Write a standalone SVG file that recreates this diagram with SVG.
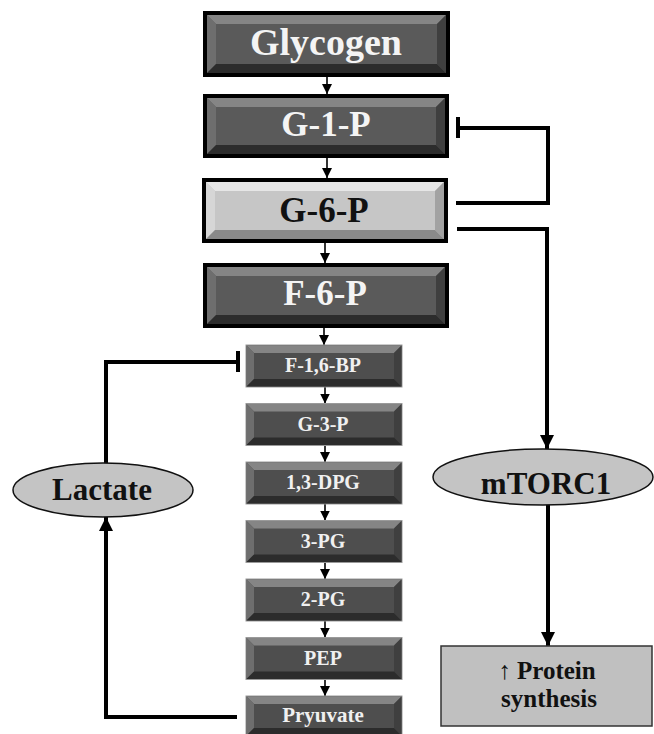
<svg xmlns="http://www.w3.org/2000/svg" width="654" height="734" viewBox="0 0 654 734" font-family="'Liberation Serif', 'DejaVu Serif', serif">
<style>
text{font-family:'Liberation Serif','DejaVu Serif',serif;font-weight:bold;text-anchor:middle}
.big{font-size:35px;fill:#f4f4f4}
.bigd{font-size:35px;fill:#111}
.sm{font-size:20px;fill:#f0f0f0}
.ell{font-size:31px;fill:#111}
.outer{fill:#000}
.base{fill:#5a5a5a}
.top{fill:#858585}
.lft{fill:#6e6e6e}
.rgt{fill:#3f3f3f}
.bot{fill:#2c2c2c}
.lbase{fill:#c6c6c6}
.ltop{fill:#e6e6e6}
.llft{fill:#d6d6d6}
.lrgt{fill:#a2a2a2}
.lbot{fill:#8a8a8a}
.sframe{fill:#4e4e4e;stroke:#9a9a9a;stroke-width:1}
.oval{fill:#c4c4c4;stroke:#111;stroke-width:1.5}
.thin{stroke:#000;stroke-width:1.6;fill:none}
.thick{stroke:#000;stroke-width:4;fill:none}
</style>
<defs>
<marker id="ah" viewBox="0 0 10 10" refX="10" refY="5" markerWidth="10" markerHeight="10" markerUnits="userSpaceOnUse" orient="auto">
<path d="M0,0 L10,5 L0,10 z" fill="#000"/>
</marker>
<marker id="ahb" viewBox="0 0 10 10" refX="10" refY="5" markerWidth="14" markerHeight="14" markerUnits="userSpaceOnUse" orient="auto">
<path d="M0,0 L10,5 L0,10 z" fill="#000"/>
</marker>
</defs>

<g id="connectors">
<line class="thin" x1="327" y1="77" x2="327" y2="94" marker-end="url(#ah)"/>
<line class="thin" x1="327" y1="158" x2="327" y2="178" marker-end="url(#ah)"/>
<line class="thin" x1="325" y1="243" x2="325" y2="263" marker-end="url(#ah)"/>
<line class="thin" x1="324" y1="328" x2="324" y2="345" marker-end="url(#ah)"/>
<line class="thin" x1="325" y1="387" x2="325" y2="403.5" marker-end="url(#ah)"/>
<line class="thin" x1="325" y1="445.5" x2="325" y2="462" marker-end="url(#ah)"/>
<line class="thin" x1="325" y1="504" x2="325" y2="520.5" marker-end="url(#ah)"/>
<line class="thin" x1="325" y1="562.5" x2="325" y2="579" marker-end="url(#ah)"/>
<line class="thin" x1="325" y1="621" x2="325" y2="637.5" marker-end="url(#ah)"/>
<line class="thin" x1="325" y1="679.5" x2="325" y2="696" marker-end="url(#ah)"/>
<path class="thick" d="M456,203 H548 V128 H458"/>
<line stroke="#000" stroke-width="4" x1="458" y1="117" x2="458" y2="138"/>
<path class="thick" d="M457,229 H547 V449" marker-end="url(#ahb)"/>
<line class="thick" x1="548" y1="504" x2="548" y2="646" marker-end="url(#ahb)"/>
<path class="thick" d="M106,463 V362 H238"/>
<line stroke="#000" stroke-width="4" x1="238" y1="351" x2="238" y2="372"/>
<path class="thick" d="M237,717 H106 V517" marker-end="url(#ahb)"/>
</g>

<g id="glycogen">
<rect class="outer" x="203" y="11" width="247" height="66"/>
<rect class="base" x="207" y="15" width="239" height="58"/>
<polygon class="top" points="207,15 446,15 437,24 216,24"/>
<polygon class="lft" points="207,15 216,24 216,64 207,73"/>
<polygon class="rgt" points="446,15 446,73 437,64 437,24"/>
<polygon class="bot" points="207,73 216,64 437,64 446,73"/>
<rect class="base" x="216" y="24" width="221" height="40"/>
<text class="big" x="326" y="55" style="font-size:38px">Glycogen</text>
</g>

<g id="g1p">
<rect class="outer" x="203" y="94" width="246" height="64"/>
<rect class="base" x="207" y="98" width="238" height="56"/>
<polygon class="top" points="207,98 445,98 436,107 216,107"/>
<polygon class="lft" points="207,98 216,107 216,145 207,154"/>
<polygon class="rgt" points="445,98 445,154 436,145 436,107"/>
<polygon class="bot" points="207,154 216,145 436,145 445,154"/>
<rect class="base" x="216" y="107" width="220" height="38"/>
<text class="big" x="326" y="136">G-1-P</text>
</g>

<g id="g6p">
<rect class="outer" x="202" y="178" width="246" height="65"/>
<rect class="lbase" x="206" y="182" width="238" height="57"/>
<polygon class="ltop" points="206,182 444,182 435,191 215,191"/>
<polygon class="llft" points="206,182 215,191 215,230 206,239"/>
<polygon class="lrgt" points="444,182 444,239 435,230 435,191"/>
<polygon class="lbot" points="206,239 215,230 435,230 444,239"/>
<rect class="lbase" x="215" y="191" width="220" height="39"/>
<text class="bigd" x="324" y="222">G-6-P</text>
</g>

<g id="f6p">
<rect class="outer" x="203" y="263" width="246" height="65"/>
<rect class="base" x="207" y="267" width="238" height="57"/>
<polygon class="top" points="207,267 445,267 436,276 216,276"/>
<polygon class="lft" points="207,267 216,276 216,315 207,324"/>
<polygon class="rgt" points="445,267 445,324 436,315 436,276"/>
<polygon class="bot" points="207,324 216,315 436,315 445,324"/>
<rect class="base" x="216" y="276" width="220" height="39"/>
<text class="big" x="325" y="305">F-6-P</text>
</g>

<g id="f16bp">
<rect class="sframe" x="246" y="345" width="156" height="42"/>
<polygon class="top" points="246.5,345.5 401.5,345.5 394,353 254,353"/>
<polygon class="lft" points="246.5,345.5 254,353 254,379 246.5,386.5"/>
<polygon class="rgt" points="401.5,345.5 401.5,386.5 394,379 394,353"/>
<polygon class="bot" points="246.5,386.5 254,379 394,379 401.5,386.5"/>
<text class="sm" x="323" y="372">F-1,6-BP</text>
</g>

<g id="g3p">
<rect class="sframe" x="246" y="403.5" width="156" height="42"/>
<polygon class="top" points="246.5,404 401.5,404 394,411.5 254,411.5"/>
<polygon class="lft" points="246.5,404 254,411.5 254,437.5 246.5,445"/>
<polygon class="rgt" points="401.5,404 401.5,445 394,437.5 394,411.5"/>
<polygon class="bot" points="246.5,445 254,437.5 394,437.5 401.5,445"/>
<text class="sm" x="323" y="431">G-3-P</text>
</g>

<g id="dpg13">
<rect class="sframe" x="246" y="462" width="156" height="42"/>
<polygon class="top" points="246.5,462.5 401.5,462.5 394,470 254,470"/>
<polygon class="lft" points="246.5,462.5 254,470 254,496 246.5,503.5"/>
<polygon class="rgt" points="401.5,462.5 401.5,503.5 394,496 394,470"/>
<polygon class="bot" points="246.5,503.5 254,496 394,496 401.5,503.5"/>
<text class="sm" x="323" y="489">1,3-DPG</text>
</g>

<g id="pg3">
<rect class="sframe" x="246" y="520.5" width="156" height="42"/>
<polygon class="top" points="246.5,521 401.5,521 394,528.5 254,528.5"/>
<polygon class="lft" points="246.5,521 254,528.5 254,554.5 246.5,562"/>
<polygon class="rgt" points="401.5,521 401.5,562 394,554.5 394,528.5"/>
<polygon class="bot" points="246.5,562 254,554.5 394,554.5 401.5,562"/>
<text class="sm" x="323" y="548">3-PG</text>
</g>

<g id="pg2">
<rect class="sframe" x="246" y="579" width="156" height="42"/>
<polygon class="top" points="246.5,579.5 401.5,579.5 394,587 254,587"/>
<polygon class="lft" points="246.5,579.5 254,587 254,613 246.5,620.5"/>
<polygon class="rgt" points="401.5,579.5 401.5,620.5 394,613 394,587"/>
<polygon class="bot" points="246.5,620.5 254,613 394,613 401.5,620.5"/>
<text class="sm" x="323" y="606">2-PG</text>
</g>

<g id="pep">
<rect class="sframe" x="246" y="637.5" width="156" height="42"/>
<polygon class="top" points="246.5,638 401.5,638 394,645.5 254,645.5"/>
<polygon class="lft" points="246.5,638 254,645.5 254,671.5 246.5,679"/>
<polygon class="rgt" points="401.5,638 401.5,679 394,671.5 394,645.5"/>
<polygon class="bot" points="246.5,679 254,671.5 394,671.5 401.5,679"/>
<text class="sm" x="323" y="665">PEP</text>
</g>

<g id="pyruvate">
<rect class="sframe" x="246" y="696" width="156" height="40"/>
<polygon class="top" points="246.5,696.5 401.5,696.5 394,704 254,704"/>
<polygon class="lft" points="246.5,696.5 254,704 254,728 246.5,735.5"/>
<polygon class="rgt" points="401.5,696.5 401.5,735.5 394,728 394,704"/>
<polygon class="bot" points="246.5,735.5 254,728 394,728 401.5,735.5"/>
<text class="sm" x="323" y="722" style="font-size:21px">Pryuvate</text>
</g>

<g id="lactate">
<ellipse class="oval" cx="103" cy="490" rx="90" ry="27"/>
<text class="ell" x="102" y="500">Lactate</text>
</g>

<g id="mtorc1">
<ellipse class="oval" cx="543" cy="477" rx="110" ry="28"/>
<text class="ell" x="546" y="494">mTORC1</text>
</g>

<g id="protein">
<rect x="441" y="646" width="211" height="80" fill="#c0c0c0" stroke="#333" stroke-width="1.5"/>
<text x="547" y="679" style="font-size:25px;fill:#111">↑ Protein</text>
<text x="549" y="707" style="font-size:25px;fill:#111">synthesis</text>
</g>
</svg>
